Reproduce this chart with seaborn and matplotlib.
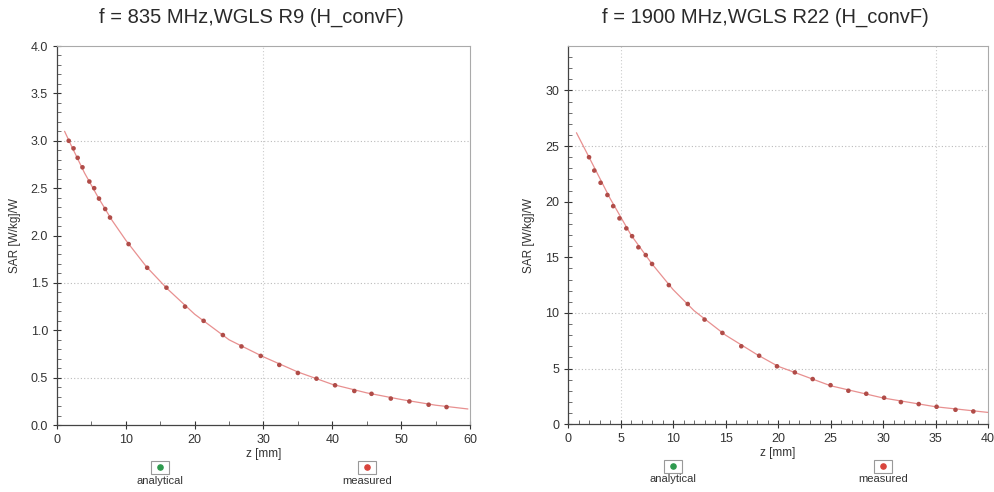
import matplotlib
matplotlib.use("Agg")
import matplotlib.pyplot as plt
import matplotlib.patches as mpatches
from matplotlib.ticker import MultipleLocator, FormatStrFormatter
import numpy as np
import seaborn as sns

# 835 MHz, measured points
z_835 = [1.7, 2.4, 3.0, 3.7, 4.7, 5.4, 6.1, 7.0, 7.7, 10.4, 13.1, 15.9, 18.6, 21.3,
         24.1, 26.8, 29.6, 32.3, 35.0, 37.7, 40.4, 43.2, 45.7, 48.5, 51.2, 54.0, 56.6]
sar_835 = [3.00, 2.92, 2.82, 2.72, 2.57, 2.50, 2.39, 2.28, 2.19, 1.91, 1.66, 1.45, 1.25, 1.10,
           0.95, 0.83, 0.73, 0.635, 0.55, 0.49, 0.42, 0.36, 0.33, 0.28, 0.25, 0.215, 0.19]
# 835 MHz, analytical curve
za_835 = [1.1, 2.0, 4.0, 6.0, 8.0, 10.0, 13.0, 16.0, 20.0, 25.0, 30.0, 35.0, 40.0, 45.0, 50.0, 55.0, 59.7]
sa_835 = [3.10, 2.96, 2.66, 2.40, 2.16, 1.95, 1.67, 1.44, 1.17, 0.90, 0.72, 0.56, 0.43, 0.34, 0.27, 0.21, 0.17]

# 1900 MHz, measured points
z_1900 = [2.0, 2.5, 3.1, 3.75, 4.3, 4.9, 5.55, 6.1, 6.7, 7.4, 8.0, 9.6, 11.4, 13.0, 14.7,
          16.5, 18.2, 19.9, 21.6, 23.3, 25.0, 26.7, 28.4, 30.1, 31.7, 33.4, 35.1, 36.9, 38.6]
sar_1900 = [24.0, 22.8, 21.7, 20.6, 19.6, 18.5, 17.6, 16.9, 15.9, 15.2, 14.4, 12.5, 10.8, 9.4, 8.2,
            7.0, 6.15, 5.2, 4.65, 4.05, 3.5, 3.0, 2.73, 2.37, 1.98, 1.8, 1.56, 1.29, 1.14]
za_1900 = [0.8, 2.0, 4.0, 6.0, 8.0, 10.0, 12.0, 15.0, 18.0, 20.0, 25.0, 30.0, 35.0, 40.0]
sa_1900 = [26.2, 24.0, 20.3, 17.0, 14.4, 12.1, 10.2, 8.0, 6.25, 5.2, 3.45, 2.35, 1.56, 1.05]

titles = ["f = 835 MHz,WGLS R9 (H_convF)", "f = 1900 MHz,WGLS R22 (H_convF)"]
# faint grid lines that survive in the scan
hgrid = [[3.0, 1.5, 0.5], [30, 25, 10, 5]]
vgrid = [[30], [5, 35]]
line_color = "#e89090"
dot_color = "#b04c48"

sns.set_style("ticks")
plt.rcParams["font.family"] = ["Liberation Sans", "DejaVu Sans"]

fig = plt.figure(figsize=(9.95, 4.92), dpi=100)
ax1 = fig.add_axes([0.0573, 0.136, 0.415, 0.7705])
ax2 = fig.add_axes([0.5709, 0.138, 0.4221, 0.7685])

panels = [
  (ax1, za_835, sa_835, z_835, sar_835, 60, 4.0, 10, 5, 0.5, 0.1, "%.1f"),
  (ax2, za_1900, sa_1900, z_1900, sar_1900, 40, 34, 5, 1, 5, 1, "%d"),
]

for i, (ax, za, sa, zm, sm, xmax, ymax, xmaj, xmin, ymaj, ymin, yfmt) in enumerate(panels):
  for h in hgrid[i]:
    ax.axhline(h, linestyle=(0, (1, 2)), color="#bbbbbb", linewidth=0.8, zorder=0)
  for v in vgrid[i]:
    ax.axvline(v, linestyle=(0, (1, 2)), color="#cccccc", linewidth=0.8, zorder=0)
  sns.lineplot(x=za, y=sa, ax=ax, color=line_color, linewidth=0.9)
  sns.scatterplot(x=zm, y=sm, ax=ax, color=dot_color, s=11, edgecolor="none", zorder=3)
  ax.set_xlim(0, xmax)
  ax.set_ylim(0, ymax)
  ax.xaxis.set_major_locator(MultipleLocator(xmaj))
  ax.xaxis.set_minor_locator(MultipleLocator(xmin))
  ax.yaxis.set_major_locator(MultipleLocator(ymaj))
  ax.yaxis.set_minor_locator(MultipleLocator(ymin))
  ax.yaxis.set_major_formatter(FormatStrFormatter(yfmt))
  ax.tick_params(axis="both", which="major", direction="inout", length=6, width=0.8,
                 labelsize=9, colors="#333333")
  ax.tick_params(axis="both", which="minor", direction="in", length=3, width=0.6, colors="#555555")
  for side in ["top", "right"]:
    ax.spines[side].set_visible(True)
    ax.spines[side].set_color("#aaaaaa")
    ax.spines[side].set_linewidth(0.8)
  for side in ["left", "bottom"]:
    ax.spines[side].set_color("#444444")
    ax.spines[side].set_linewidth(0.9)
  ax.set_title(titles[i], fontsize=14.5, color="#2a2a2a", pad=17, x=0.47)
  ax.set_xlabel("z [mm]", fontsize=8.5, color="#333333", labelpad=1)
  ax.set_ylabel("SAR [W/kg]/W", fontsize=8.5, color="#333333", labelpad=7)

  # legend boxes under the axes
  for xf, c, lab in [(0.25, "#2e9a4e", "analytical"), (0.75, "#d9443c", "measured")]:
    ax.add_patch(mpatches.Rectangle((xf - 0.022, -0.128), 0.044, 0.034, transform=ax.transAxes,
                                    clip_on=False, facecolor="white", edgecolor="#999999", linewidth=0.8))
    ax.scatter([xf], [-0.111], transform=ax.transAxes, clip_on=False, s=14, color=c, zorder=5)
    ax.text(xf, -0.133, lab, transform=ax.transAxes, ha="center", va="top", fontsize=8,
            color="#333333")

fig.savefig("out.png", dpi=100)
